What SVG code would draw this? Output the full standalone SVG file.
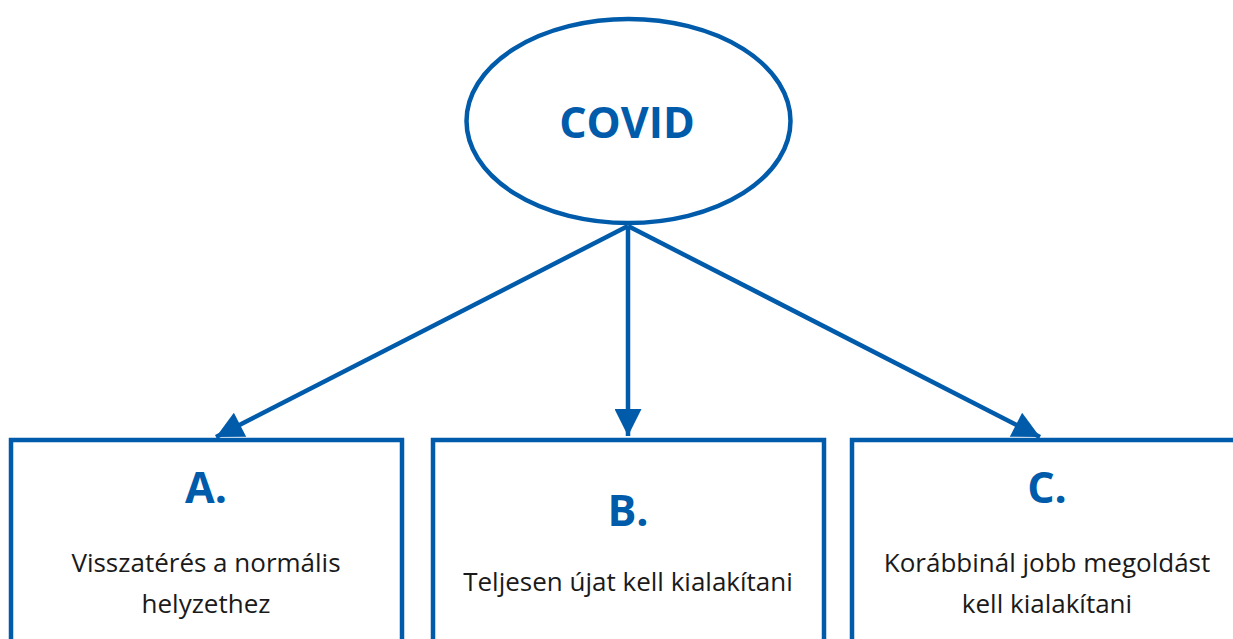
<svg xmlns="http://www.w3.org/2000/svg" width="1233" height="639" viewBox="0 0 1233 639">
<style>
.shape{fill:#fff;stroke:#005baa;stroke-width:4.5}
.title{font-family:"Open Sans","Liberation Sans",sans-serif;font-weight:bold;fill:#005baa;text-anchor:middle}
.body{font-family:"Open Sans","Liberation Sans",sans-serif;font-size:26px;font-weight:normal;fill:#1a1a1a;text-anchor:middle}
.conn{stroke:#005baa;stroke-width:4.5;fill:none}
</style>
<defs>
<marker id="ah" viewBox="0 0 10 10" refX="10" refY="5" markerWidth="6.5" markerHeight="6" markerUnits="strokeWidth" orient="auto">
<path d="M0,0 L10,5 L0,10 z" fill="#005baa"/>
</marker>
</defs>
<g id="connectors">
<line class="conn" x1="628" y1="226" x2="216" y2="437" marker-end="url(#ah)"/>
<line class="conn" x1="628" y1="226" x2="628" y2="436" marker-end="url(#ah)"/>
<line class="conn" x1="628" y1="226" x2="1040" y2="437" marker-end="url(#ah)"/>
</g>
<g id="covid">
<ellipse class="shape" cx="628.5" cy="121" rx="162" ry="102"/>
<text class="title" x="627" y="138" font-size="43">COVID</text>
</g>
<g id="nodeA">
<rect class="shape" x="11" y="440" width="391" height="220"/>
<text class="title" x="206" y="503" font-size="43">A.</text>
<text class="body" x="206" y="572">Visszatérés a normális</text>
<text class="body" x="206" y="613">helyzethez</text>
</g>
<g id="nodeB">
<rect class="shape" x="433" y="440" width="391" height="220"/>
<text class="title" x="628" y="526" font-size="43">B.</text>
<text class="body" x="628" y="591">Teljesen újat kell kialakítani</text>
</g>
<g id="nodeC">
<rect class="shape" x="852" y="440" width="400" height="220"/>
<text class="title" x="1047" y="503" font-size="43">C.</text>
<text class="body" x="1047" y="572">Korábbinál jobb megoldást</text>
<text class="body" x="1047" y="613">kell kialakítani</text>
</g>
</svg>
